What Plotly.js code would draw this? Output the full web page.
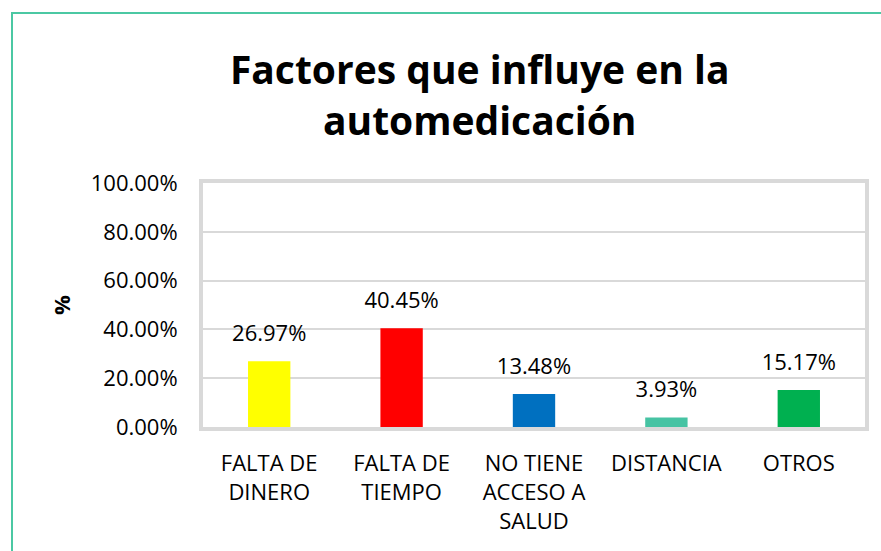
<!DOCTYPE html>
<html>
<head>
<meta charset="utf-8">
<script src="https://cdn.plot.ly/plotly-3.0.1.min.js"></script>
<style>
  html, body { margin: 0; padding: 0; background: #fff; }
  #wrap { position: relative; width: 881px; height: 551px; overflow: hidden; }
  #frame { position: absolute; left: 11px; top: 12px; width: 900px; height: 600px;
           border-left: 2px solid #4BC8A3; border-top: 2px solid #4BC8A3; }
  #chart { position: absolute; left: 0; top: 0; width: 881px; height: 551px; }
</style>
</head>
<body>
<div id="wrap">
  <div id="frame"></div>
  <div id="chart"></div>
</div>
<script>
const categories = ["FALTA DE<br>DINERO", "FALTA DE<br>TIEMPO", "NO TIENE<br>ACCESO A<br>SALUD", "DISTANCIA", "OTROS"];
const values = [26.97, 40.45, 13.48, 3.93, 15.17];
const barColors = ["#FFFF00", "#FF0000", "#0070C0", "#46C3A3", "#00B050"];
const yTickVals = [0, 20, 40, 60, 80, 100];
const yTickText = ["0.00%", "20.00%", "40.00%", "60.00%", "80.00%", "100.00%"];
const titleText = "Factores que influye en la<br>automedicación";
const yTitle = "%";

const font = "Open Sans, sans-serif";

const bars = {
  type: "bar",
  x: categories,
  y: values,
  marker: { color: barColors },
  hoverinfo: "none"
};
const labels = {
  type: "scatter",
  mode: "markers+text",
  x: categories,
  y: values,
  text: values.map(v => v.toFixed(2) + "%"),
  textposition: "top center",
  textfont: { family: font, size: 22, color: "#000" },
  marker: { size: 22, opacity: 0 },
  hoverinfo: "none",
  showlegend: false
};

const layout = {
  width: 881, height: 551,
  paper_bgcolor: "rgba(0,0,0,0)",
  plot_bgcolor: "#fff",
  margin: { l: 203, r: 16, t: 183, b: 124 },
  showlegend: false,
  bargap: 0.68,
  title: {
    text: titleText,
    font: { family: font, size: 39, color: "#000", weight: "bold" },
    xref: "paper", x: 0.418, xanchor: "center",
    yref: "container", y: 1 - 84/551, yanchor: "top"
  },
  xaxis: {
    type: "category",
    showline: true, mirror: true, linewidth: 4, linecolor: "#D9D9D9",
    showgrid: false, ticks: "",
    ticklabelstandoff: 14,
    tickfont: { family: font, size: 22, color: "#000" },
    automargin: false, fixedrange: true
  },
  yaxis: {
    range: [0, 100],
    tickvals: yTickVals, ticktext: yTickText,
    showline: true, mirror: true, linewidth: 4, linecolor: "#D9D9D9",
    showgrid: true, gridcolor: "#D9D9D9", gridwidth: 2,
    zeroline: false, ticks: "",
    ticklabelstandoff: 17,
    tickfont: { family: font, size: 22, color: "#000" },
    title: { text: yTitle, font: { family: font, size: 22, color: "#000", weight: "bold" }, standoff: 15 },
    automargin: false, fixedrange: true
  }
};

Plotly.newPlot("chart", [bars, labels], layout, { displayModeBar: false, staticPlot: true });
</script>
</body>
</html>
